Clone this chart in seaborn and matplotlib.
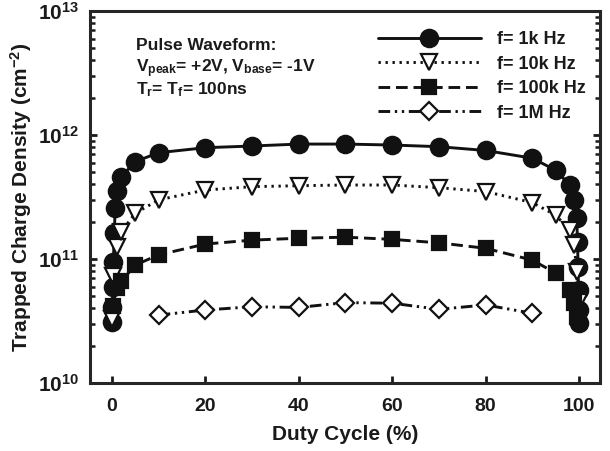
import numpy as np
import pandas as pd
import matplotlib
matplotlib.use("Agg")
import matplotlib.pyplot as plt
import seaborn as sns
from matplotlib.ticker import LogLocator, NullFormatter, FixedLocator

# ---- data ----
duty_1k = [0.05, 0.1, 0.2, 0.3, 0.5, 0.7, 1, 2, 5, 10, 20, 30, 40, 50, 60, 70, 80, 90, 95,
           98, 99, 99.5, 99.7, 99.8, 99.9, 99.95, 99.98]
dens_1k = [3.1e10, 4.1e10, 6.0e10, 9.5e10, 1.61e11, 2.6e11, 3.55e11, 4.6e11, 6.1e11, 7.2e11,
           7.9e11, 8.15e11, 8.45e11, 8.45e11, 8.3e11, 8.05e11, 7.5e11, 6.5e11, 5.2e11,
           3.95e11, 3.0e11, 2.14e11, 1.37e11, 8.6e10, 5.6e10, 3.9e10, 3.05e10]

duty_10k = [0.05, 0.2, 1, 2, 5, 10, 20, 30, 40, 50, 60, 70, 80, 90, 95, 98, 99, 99.5, 99.9]
dens_10k = [3.3e10, 7.3e10, 1.24e11, 1.66e11, 2.34e11, 3.0e11, 3.6e11, 3.83e11, 3.9e11,
            3.95e11, 3.95e11, 3.76e11, 3.5e11, 2.85e11, 2.26e11, 1.71e11, 1.3e11, 7.9e10, 4.5e10]

duty_100k = [0.2, 1, 2, 5, 10, 20, 30, 40, 50, 60, 70, 80, 90, 95, 98, 99, 99.5]
dens_100k = [4.2e10, 5.8e10, 6.6e10, 8.95e10, 1.08e11, 1.32e11, 1.42e11, 1.47e11, 1.5e11,
             1.44e11, 1.35e11, 1.22e11, 9.8e10, 7.7e10, 5.6e10, 4.4e10, 3.4e10]

duty_1M = [10, 20, 30, 40, 50, 60, 70, 80, 90]
dens_1M = [3.53e10, 3.88e10, 4.12e10, 4.07e10, 4.45e10, 4.4e10, 3.93e10, 4.26e10, 3.65e10]

labels = ["f= 1k Hz", "f= 10k Hz", "f= 100k Hz", "f= 1M Hz"]
x_ticks = [0, 20, 40, 60, 80, 100]
annot_lines = ["Pulse Waveform:",
               r"V$_{\mathrm{peak}}$= +2V, V$_{\mathrm{base}}$= -1V",
               r"T$_{\mathrm{r}}$= T$_{\mathrm{f}}$= 100ns"]

# ---- style ----
sns.set_theme(style="ticks")
plt.rcParams.update({
    "font.family": ["Liberation Sans", "DejaVu Sans"],
    "font.weight": "bold",
    "axes.labelweight": "bold",
    "mathtext.fontset": "custom",
    "mathtext.rm": "Liberation Sans:bold",
    "mathtext.bf": "Liberation Sans:bold",
    "mathtext.it": "Liberation Sans:bold",
    "mathtext.sf": "Liberation Sans:bold",
    "axes.linewidth": 2.2,
    "text.color": "#1a1a1a",
    "axes.labelcolor": "#1a1a1a",
    "xtick.color": "#1a1a1a",
    "ytick.color": "#1a1a1a",
})

fig = plt.figure(figsize=(6.1, 4.51), dpi=100)
ax = fig.add_axes([90 / 610, 1 - 383 / 451, 510 / 610, 372 / 451])

series = [
    (duty_1k, dens_1k, labels[0], dict(marker="o", markersize=12.5, markerfacecolor="#111111",
                                       linestyle="-")),
    (duty_10k, dens_10k, labels[1], dict(marker="v", markersize=12, markerfacecolor="white",
                                         linestyle=(0, (0.8, 1.6)))),
    (duty_100k, dens_100k, labels[2], dict(marker="s", markersize=10.5, markerfacecolor="#111111",
                                           linestyle=(0, (4, 2)))),
    (duty_1M, dens_1M, labels[3], dict(marker="D", markersize=9.5, markerfacecolor="white",
                                       linestyle=(0, (4, 1.6, 0.8, 1.6, 0.8, 1.6)))),
]

for xs, ys, lab, kw in series:
    df = pd.DataFrame({"duty": xs, "dens": ys})
    sns.lineplot(data=df, x="duty", y="dens", ax=ax, label=lab, color="#111111",
                 linewidth=2.1, markeredgecolor="#111111", markeredgewidth=1.6,
                 sort=True, **kw)

ax.set_yscale("log")
ax.set_ylim(1e10, 1e13)
ax.set_xlim(-4.7, 104.5)
ax.xaxis.set_major_locator(FixedLocator(x_ticks))
ax.yaxis.set_major_locator(LogLocator(base=10, numticks=10))
ax.yaxis.set_minor_locator(LogLocator(base=10, subs=np.arange(2, 10), numticks=20))
ax.yaxis.set_minor_formatter(NullFormatter())

ax.tick_params(axis="both", which="major", direction="in", labelsize=14, width=2, length=5)
ax.tick_params(axis="x", which="major", pad=11)
ax.tick_params(axis="y", which="major", labelsize=15, pad=8)
ax.tick_params(axis="y", which="minor", direction="in", width=1.8, length=3.5)
ax.tick_params(axis="y", which="both", left=True, right=True)
ax.tick_params(axis="x", which="both", bottom=True, top=False)
for lab in ax.get_xticklabels() + ax.get_yticklabels():
    lab.set_fontweight("bold")

ax.set_xlabel("Duty Cycle (%)", fontsize=15, fontweight="bold", labelpad=7)
ax.set_ylabel(r"Trapped Charge Density (cm$^{-2}$)", fontsize=15, fontweight="bold", labelpad=3)

leg = ax.legend(loc="upper right", bbox_to_anchor=(1.0, 0.985), frameon=False,
                fontsize=13, handlelength=5.7, handletextpad=0.9, labelspacing=0.42,
                borderaxespad=0.4, numpoints=1)
for t in leg.get_texts():
    t.set_fontweight("bold")

ys_txt = [0.895, 0.835, 0.777]
for s, yy in zip(annot_lines, ys_txt):
    ax.text(0.09, yy, s, transform=ax.transAxes, fontsize=12.5, fontweight="bold",
            ha="left", va="baseline")

fig.savefig("out.png", dpi=100)
